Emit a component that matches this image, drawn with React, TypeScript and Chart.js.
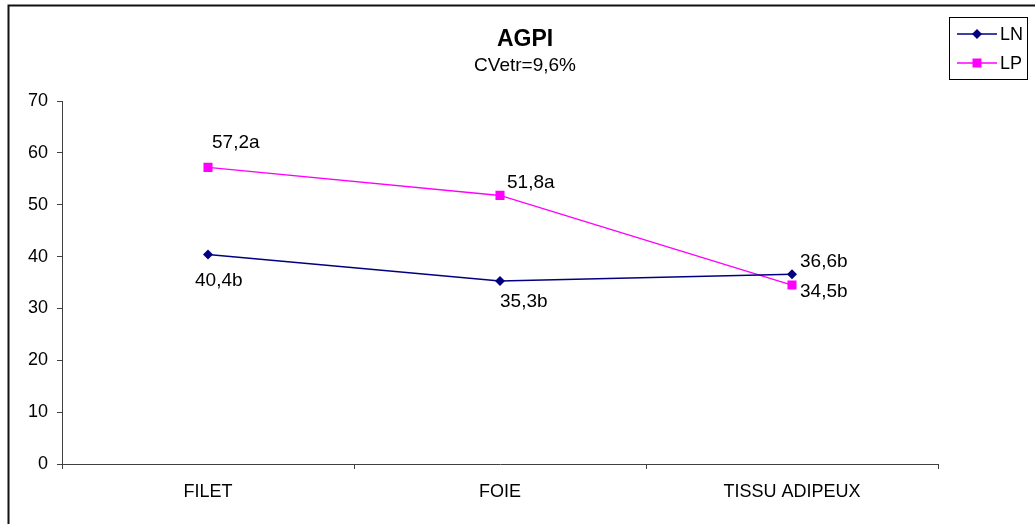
import React, { useEffect, useRef } from "react";
import { Chart, registerables } from "chart.js";

Chart.register(...registerables);

const categories = ["FILET", "FOIE", "TISSU ADIPEUX"];
const seriesNames = ["LN", "LP"];
const lnValues = [40.4, 35.3, 36.6];
const lpValues = [57.2, 51.8, 34.5];
const lnLabels = ["40,4b", "35,3b", "36,6b"];
const lpLabels = ["57,2a", "51,8a", "34,5b"];
const yTicks = [0, 10, 20, 30, 40, 50, 60, 70];
const titleText = "AGPI";
const subtitleText = "CVetr=9,6%";

const LN_COLOR = "#000080";
const LP_COLOR = "#FF00FF";
const AXIS_COLOR = "#404040";
const FONT = "'Liberation Sans', Arial, sans-serif";

// label offsets (dx from point to label left, dy from point to label middle)
const lnLabelOffsets = [
  [-13, 26],
  [0, 21],
  [8, -12],
];
const lpLabelOffsets = [
  [4, -25],
  [7, -13],
  [8, 7],
];

const extrasPlugin = {
  id: "extras",
  afterDraw(chart: any) {
    const ctx = chart.ctx as CanvasRenderingContext2D;
    ctx.save();
    // outer frame
    ctx.strokeStyle = "#111";
    ctx.lineWidth = 2;
    ctx.strokeRect(8.5, 5.5, 1100, 600);

    // title
    ctx.fillStyle = "#000";
    ctx.textAlign = "center";
    ctx.textBaseline = "alphabetic";
    ctx.font = `bold 23px ${FONT}`;
    ctx.fillText(titleText, 525, 46);
    ctx.font = `19px ${FONT}`;
    ctx.fillText(subtitleText, 525, 71);

    // data labels
    ctx.font = `19px ${FONT}`;
    ctx.textAlign = "left";
    ctx.textBaseline = "middle";
    const groups = [
      { idx: 0, labels: lnLabels, offs: lnLabelOffsets },
      { idx: 1, labels: lpLabels, offs: lpLabelOffsets },
    ];
    groups.forEach((g) => {
      const meta = chart.getDatasetMeta(g.idx);
      meta.data.forEach((pt: any, j: number) => {
        ctx.fillText(g.labels[j], pt.x + g.offs[j][0], pt.y + g.offs[j][1]);
      });
    });

    // legend
    const lx = 949, ly = 17, lw = 78, lh = 62;
    ctx.fillStyle = "#fff";
    ctx.fillRect(lx, ly, lw, lh);
    ctx.strokeStyle = "#000";
    ctx.lineWidth = 1;
    ctx.strokeRect(lx + 0.5, ly + 0.5, lw, lh);
    const rows = [
      { name: seriesNames[0], color: LN_COLOR, style: "diamond", y: 34 },
      { name: seriesNames[1], color: LP_COLOR, style: "square", y: 63 },
    ];
    rows.forEach((r) => {
      ctx.strokeStyle = r.color;
      ctx.lineWidth = 1.5;
      ctx.beginPath();
      ctx.moveTo(957, r.y);
      ctx.lineTo(997, r.y);
      ctx.stroke();
      ctx.fillStyle = r.color;
      ctx.beginPath();
      if (r.style === "diamond") {
        ctx.moveTo(977, r.y - 5);
        ctx.lineTo(982, r.y);
        ctx.lineTo(977, r.y + 5);
        ctx.lineTo(972, r.y);
        ctx.closePath();
      } else {
        ctx.rect(972.5, r.y - 4.5, 9, 9);
      }
      ctx.fill();
      ctx.fillStyle = "#000";
      ctx.font = `18px ${FONT}`;
      ctx.textAlign = "left";
      ctx.textBaseline = "middle";
      ctx.fillText(r.name, 1000, r.y + 1);
    });
    ctx.restore();
  },
};

export default function App() {
  const ref = useRef<HTMLCanvasElement | null>(null);
  useEffect(() => {
    if (!ref.current) return;
    const chart = new Chart(ref.current, {
      type: "line",
      data: {
        labels: categories,
        datasets: [
          {
            label: seriesNames[0],
            data: lnValues,
            borderColor: LN_COLOR,
            backgroundColor: LN_COLOR,
            borderWidth: 1.5,
            pointStyle: "rectRot",
            pointRadius: 5,
            pointBorderWidth: 0,
            tension: 0,
          },
          {
            label: seriesNames[1],
            data: lpValues,
            borderColor: LP_COLOR,
            backgroundColor: LP_COLOR,
            borderWidth: 1.5,
            pointStyle: "rect",
            pointRadius: 6.4,
            pointBorderWidth: 0,
            tension: 0,
          },
        ],
      },
      options: {
        responsive: false,
        animation: false,
        devicePixelRatio: 1,
        layout: { padding: { left: 0, top: 101, right: 97, bottom: 0 } },
        plugins: {
          legend: { display: false },
          title: { display: false },
          tooltip: { enabled: false },
        },
        scales: {
          x: {
            type: "category",
            offset: true,
            grid: {
              display: true,
              drawOnChartArea: false,
              drawTicks: true,
              tickLength: 5,
              offset: true,
              color: AXIS_COLOR,
            },
            border: { display: true, color: AXIS_COLOR, width: 1 },
            ticks: {
              color: "#000",
              font: { family: FONT, size: 18 },
              padding: 12,
              maxRotation: 0,
            },
            afterFit(scale: any) {
              scale.height = 60;
            },
          },
          y: {
            min: 0,
            max: 70,
            afterBuildTicks(scale: any) {
              scale.ticks = yTicks.map((v) => ({ value: v }));
            },
            grid: {
              display: true,
              drawOnChartArea: false,
              drawTicks: true,
              tickLength: 5,
              color: AXIS_COLOR,
            },
            border: { display: true, color: AXIS_COLOR, width: 1 },
            ticks: {
              color: "#000",
              font: { family: FONT, size: 18 },
              padding: 9,
            },
            afterFit(scale: any) {
              scale.width = 62;
            },
          },
        },
      },
      plugins: [extrasPlugin],
    });
    return () => chart.destroy();
  }, []);
  return (
    <div style={{ position: "absolute", left: 0, top: 0, width: 1035, height: 524, background: "#fff" }}>
      <canvas ref={ref} width={1035} height={524} style={{ display: "block" }} />
    </div>
  );
}
